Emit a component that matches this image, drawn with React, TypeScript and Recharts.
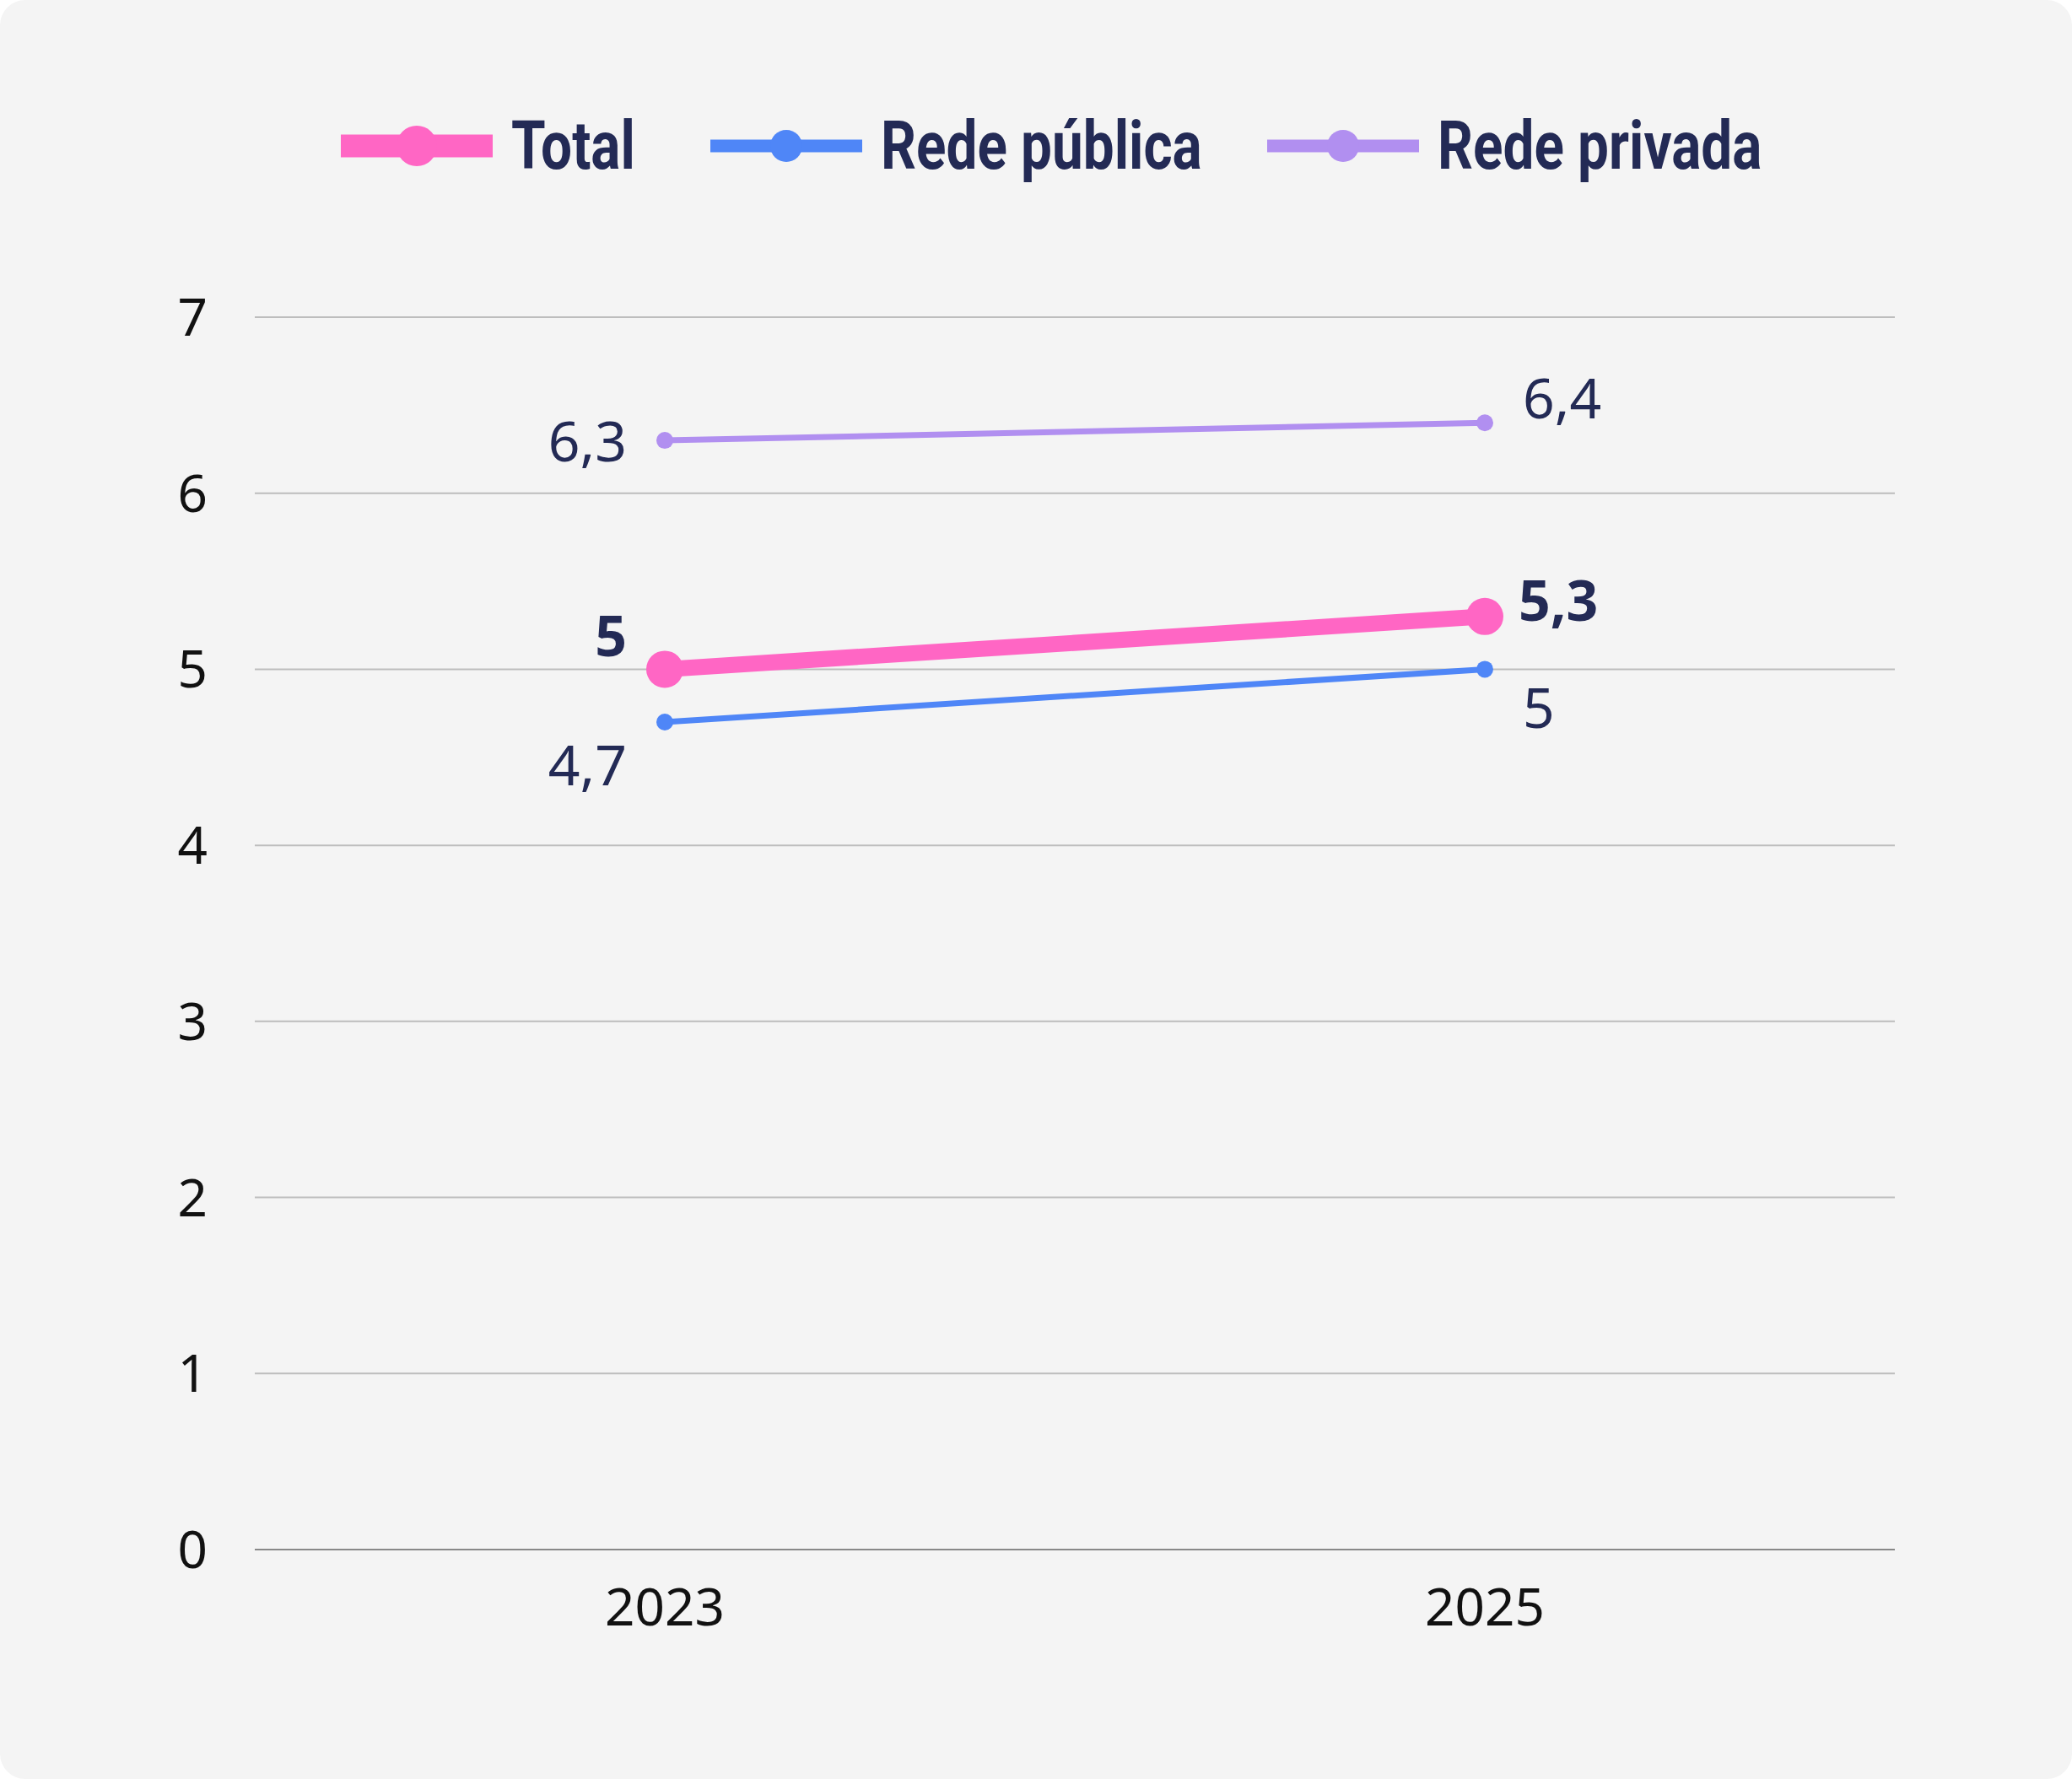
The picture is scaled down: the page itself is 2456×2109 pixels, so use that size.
import React from "react";
import { LineChart, Line, XAxis, YAxis, CartesianGrid } from "recharts";

const years = ["2023", "2025"];
const total = [5, 5.3];
const publica = [4.7, 5];
const privada = [6.3, 6.4];
const yTicks = [0, 1, 2, 3, 4, 5, 6, 7];

const data = years.map((y, i) => ({
  year: y,
  total: total[i],
  publica: publica[i],
  privada: privada[i],
}));

const INK = "#232a55";
const fmt = (v: number) => String(v).replace(".", ",");

const makeLabel =
  (pos: { dx0: number; dy0: number; dx1: number; dy1: number }, bold: boolean) =>
  (props: any) => {
    const { x, y, value, index } = props;
    const first = index === 0;
    return (
      <text
        x={x + (first ? pos.dx0 : pos.dx1)}
        y={y + (first ? pos.dy0 : pos.dy1)}
        textAnchor={first ? "end" : "start"}
        fill={INK}
        fontSize={66}
        fontWeight={bold ? 700 : 400}
        fontFamily="'Noto Sans', sans-serif"
      >
        {fmt(value)}
      </text>
    );
  };

const legendItems = [
  { name: "Total", color: "#ff66c4", w: 19, r: 24, left: 404 },
  { name: "Rede pública", color: "#4f86f7", w: 7, r: 19, left: 842 },
  { name: "Rede privada", color: "#b18ff0", w: 7, r: 19, left: 1502 },
];

const LegendRow = () => (
  <div style={{ position: "absolute", top: 126, left: 0, width: 2456, height: 70 }}>
    {legendItems.map((it) => (
      <div
        key={it.name}
        style={{ position: "absolute", left: it.left, top: 0, display: "flex", alignItems: "center" }}
      >
        <svg width={180} height={70}>
          <line x1={0} x2={180} y1={35} y2={35} stroke={it.color} strokeWidth={it.w + 8} />
          <circle cx={90} cy={35} r={it.r} fill={it.color} />
        </svg>
        <span
          style={{
            marginLeft: 22,
            fontSize: 80,
            fontWeight: 700,
            color: INK,
            fontFamily: "'Liberation Sans Narrow', 'Roboto', sans-serif",
            transform: "scaleX(0.82)",
            transformOrigin: "left",
            display: "inline-block",
            whiteSpace: "nowrap",
          }}
        >
          {it.name}
        </span>
      </div>
    ))}
  </div>
);

export default function App() {
  return (
    <div
      style={{
        position: "absolute",
        left: 0,
        top: 0,
        width: 2456,
        height: 2109,
        background: "#f4f4f4",
        borderRadius: 30,
      }}
    >
      <LegendRow />
      <LineChart
        width={2456}
        height={2109}
        data={data}
        margin={{ top: 376, right: 210, bottom: 242, left: 0 }}
      >
        <CartesianGrid vertical={false} stroke="#bdbdbd" strokeWidth={2} />
        <XAxis
          dataKey="year"
          padding={{ left: 486, right: 486 }}
          tickLine={false}
          axisLine={{ stroke: "#888", strokeWidth: 2 }}
          tick={{ fill: "#111", fontSize: 62, fontFamily: "'Noto Sans', sans-serif" }}
          tickMargin={40}
        />
        <YAxis
          width={302}
          domain={[0, 7]}
          ticks={yTicks}
          tickLine={false}
          axisLine={false}
          tickMargin={50}
          tick={{ fill: "#111", fontSize: 62, fontFamily: "'Noto Sans', sans-serif" }}
        />
        <Line
          dataKey="privada"
          stroke="#b18ff0"
          strokeWidth={7}
          dot={{ r: 10, fill: "#b18ff0", stroke: "none" }}
          isAnimationActive={false}
          label={makeLabel({ dx0: -45, dy0: 25, dx1: 45, dy1: -5 }, false)}
        />
        <Line
          dataKey="publica"
          stroke="#4f86f7"
          strokeWidth={7}
          dot={{ r: 10, fill: "#4f86f7", stroke: "none" }}
          isAnimationActive={false}
          label={makeLabel({ dx0: -45, dy0: 75, dx1: 45, dy1: 70 }, false)}
        />
        <Line
          dataKey="total"
          stroke="#ff66c4"
          strokeWidth={19}
          dot={{ r: 22, fill: "#ff66c4", stroke: "none" }}
          isAnimationActive={false}
          label={makeLabel({ dx0: -45, dy0: -15, dx1: 40, dy1: 5 }, true)}
        />
      </LineChart>
    </div>
  );
}
